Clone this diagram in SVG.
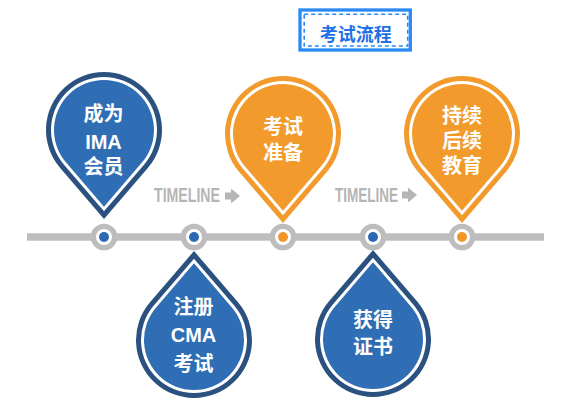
<svg xmlns="http://www.w3.org/2000/svg" xmlns:xlink="http://www.w3.org/1999/xlink" width="575" height="403" viewBox="0 0 575 403">
<style>
.bg{fill:#ffffff}
.bar{fill:#bdbdbd}
.ring{fill:#ffffff;stroke:#bdbdbd;stroke-width:5.3}
.dotB{fill:#2b6ab3}
.dotO{fill:#f0962a}
.bandB{fill:#2a517f}
.fillB{fill:#2f6db4}
.bandO{fill:#f29a2c}
.fillO{fill:#f29a2c}
.white{fill:#ffffff}
.lbl{fill:#ffffff;font-family:"Liberation Sans","Noto Sans CJK SC",sans-serif;font-weight:bold;font-size:20px;text-anchor:middle}
.tl{fill:#b5b5b5;font-family:"Liberation Sans",sans-serif;font-weight:bold;font-size:21px}
.tla{fill:#b5b5b5}
.title{fill:#1f6fe6;font-family:"Noto Sans CJK SC",sans-serif;font-weight:bold;font-size:18px;text-anchor:middle}
</style>
<defs>
<path id="pOuter" d="M0,89 L44.0,37.8 A58,58 0 1 0 -44.0,37.8 Z"/>
<path id="pWhite" d="M0,81.3 L40.2,34.5 A53,53 0 1 0 -40.2,34.5 Z"/>
<path id="pInner" d="M0,76.7 L37.9,32.6 A50,50 0 1 0 -37.9,32.6 Z"/>
<g id="arrow">
<rect x="225" y="192.5" width="7" height="7"/>
<polygon points="231,188.5 240,196 231,203.5"/>
</g>
</defs>
<rect class="bg" x="0" y="0" width="575" height="403"/>

<g id="title">
<rect x="300" y="10" width="110.3" height="40" fill="none" stroke="#2a8af5" stroke-width="3.3"/>
<rect x="304.2" y="14.3" width="103.5" height="31.7" fill="none" stroke="#2a8af5" stroke-width="1.6" stroke-dasharray="4 3"/>
<text class="title" x="355.7" y="40.8">考试流程</text>
</g>

<g id="timeline-labels">
<text class="tl" x="154" y="202" textLength="66" lengthAdjust="spacingAndGlyphs">TIMELINE</text>
<use xlink:href="#arrow" class="tla"/>
<text class="tl" x="335" y="202" textLength="63" lengthAdjust="spacingAndGlyphs">TIMELINE</text>
<use xlink:href="#arrow" class="tla" transform="translate(177,-1)"/>
</g>

<g id="connectors">
<rect class="bar" x="27" y="233.3" width="517" height="7.4"/>
</g>

<g id="node1">
<use xlink:href="#pOuter" class="bandB" transform="translate(104,130)"/>
<use xlink:href="#pWhite" class="white" transform="translate(104,130)"/>
<use xlink:href="#pInner" class="fillB" transform="translate(104,130)"/>
<text class="lbl" x="103.5" y="121">成为</text>
<text class="lbl" x="103.5" y="148.5">IMA</text>
<text class="lbl" x="103.5" y="174">会员</text>
<circle class="ring" cx="104" cy="237" r="10.65"/>
<circle class="dotB" cx="104" cy="237" r="5"/>
</g>

<g id="node2">
<use xlink:href="#pOuter" class="bandB" transform="translate(194,340) rotate(180)"/>
<use xlink:href="#pWhite" class="white" transform="translate(194,340) rotate(180)"/>
<use xlink:href="#pInner" class="fillB" transform="translate(194,340) rotate(180)"/>
<text class="lbl" x="193.5" y="313.5">注册</text>
<text class="lbl" x="193.5" y="342">CMA</text>
<text class="lbl" x="193.5" y="371">考试</text>
<circle class="ring" cx="194" cy="237" r="10.65"/>
<circle class="dotB" cx="194" cy="237" r="5"/>
</g>

<g id="node3">
<use xlink:href="#pOuter" class="bandO" transform="translate(283,134)"/>
<use xlink:href="#pWhite" class="white" transform="translate(283,134)"/>
<use xlink:href="#pInner" class="fillO" transform="translate(283,134)"/>
<text class="lbl" x="283" y="133.5">考试</text>
<text class="lbl" x="283" y="160">准备</text>
<circle class="ring" cx="283" cy="237" r="10.65"/>
<circle class="dotO" cx="283" cy="237" r="5"/>
</g>

<g id="node4">
<use xlink:href="#pOuter" class="bandB" transform="translate(373,339) rotate(180)"/>
<use xlink:href="#pWhite" class="white" transform="translate(373,339) rotate(180)"/>
<use xlink:href="#pInner" class="fillB" transform="translate(373,339) rotate(180)"/>
<text class="lbl" x="373" y="326.5">获得</text>
<text class="lbl" x="373" y="353.5">证书</text>
<circle class="ring" cx="373" cy="237" r="10.65"/>
<circle class="dotB" cx="373" cy="237" r="5"/>
</g>

<g id="node5">
<use xlink:href="#pOuter" class="bandO" transform="translate(462,134)"/>
<use xlink:href="#pWhite" class="white" transform="translate(462,134)"/>
<use xlink:href="#pInner" class="fillO" transform="translate(462,134)"/>
<text class="lbl" x="462" y="122.5">持续</text>
<text class="lbl" x="462" y="147.5">后续</text>
<text class="lbl" x="462" y="172.5">教育</text>
<circle class="ring" cx="462" cy="237" r="10.65"/>
<circle class="dotO" cx="462" cy="237" r="5"/>
</g>
</svg>
